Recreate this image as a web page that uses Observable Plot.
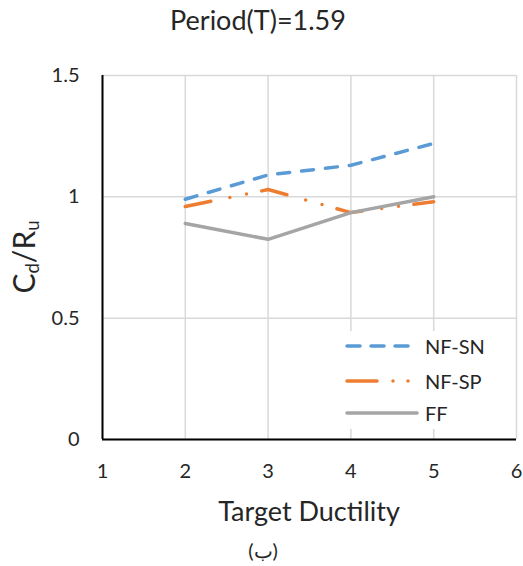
<!DOCTYPE html>
<html>
<head>
<meta charset="utf-8">
<script src="https://cdn.jsdelivr.net/npm/d3@7"></script>
<script src="https://cdn.jsdelivr.net/npm/@observablehq/plot@0.6"></script>
<style>
  body { margin: 0; background: #fff; }
  #wrap { position: relative; width: 523px; height: 566px; font-family: Lato, "Open Sans", sans-serif; color: #262626; overflow: hidden; }
  .abs { position: absolute; white-space: nowrap; }
  #title { left: 0; width: 516px; top: 3px; text-align: center; font-size: 27px; }
  #xlabel { left: 102px; width: 414px; top: 494px; text-align: center; font-size: 27px; }
  #caption { left: 102px; width: 322px; top: 538px; text-align: center; font-size: 20px; }
  #ylabel { left: 24px; top: 257px; transform: translate(-50%, -50%) rotate(-90deg); font-size: 30px; }
  #ylabel sub { font-size: 0.62em; vertical-align: -0.25em; }
  #legend { left: 338px; top: 331px; width: 172px; height: 98px; background: #fff; }
</style>
</head>
<body>
<div id="wrap">
  <div id="chart"></div>
  <div id="title" class="abs">Period(T)=1.59</div>
  <div id="ylabel" class="abs">C<sub>d</sub>/R<sub>u</sub></div>
  <div id="xlabel" class="abs">Target Ductility</div>
  <div id="caption" class="abs">(ب)</div>
  <div id="legend" class="abs"></div>
</div>
<script>
// ---- data ----
const ductility = [2, 3, 4, 5];
const nfSN = [0.99, 1.09, 1.13, 1.22];
const nfSP = [0.96, 1.03, 0.935, 0.98];
const ffV  = [0.89, 0.825, 0.935, 1.0];
const seriesNames = ["NF-SN", "NF-SP", "FF"];
const xTicks = [1, 2, 3, 4, 5, 6];
const yTicks = [0, 0.5, 1, 1.5];

// ---- styles ----
const styles = {
  "NF-SN": {stroke: "#5B9BD5", dash: "12,12"},
  "NF-SP": {stroke: "#ED7D31", dash: "26,19.5,0,17,0,15.5"},
  "FF":    {stroke: "#A5A5A5", dash: null}
};
const seriesValues = {"NF-SN": nfSN, "NF-SP": nfSP, "FF": ffV};
const rows = seriesNames.flatMap(s => ductility.map((d, i) => ({series: s, x: d, y: seriesValues[s][i]})));

const lineMarks = seriesNames.map(s => Plot.line(rows.filter(r => r.series === s), {
  x: "x", y: "y",
  stroke: styles[s].stroke,
  strokeWidth: 3.5,
  strokeDasharray: styles[s].dash || undefined,
  strokeLinecap: "round",
  strokeLinejoin: "round"
}));

const fmt = d => String(d);
const chart = Plot.plot({
  width: 523,
  height: 566,
  marginTop: 75,
  marginBottom: 127,
  marginLeft: 102,
  marginRight: 7,
  style: {fontFamily: "Lato, 'Open Sans', sans-serif", fontSize: "20px", color: "#262626", background: "#fff", overflow: "visible"},
  x: {domain: [1, 6], label: null},
  y: {domain: [0, 1.5], label: null},
  marks: [
    Plot.gridX(xTicks, {stroke: "#D9D9D9", strokeOpacity: 1, strokeWidth: 1.5}),
    Plot.gridY(yTicks, {stroke: "#D9D9D9", strokeOpacity: 1, strokeWidth: 1.5}),
    Plot.ruleX([xTicks[0]], {stroke: "#000", strokeWidth: 2}),
    Plot.ruleY([yTicks[0]], {stroke: "#000", strokeWidth: 2}),
    Plot.axisX(xTicks, {tickSize: 0, tickPadding: 24, fontSize: 20, label: null, tickFormat: fmt}),
    Plot.axisY(yTicks, {tickSize: 0, tickPadding: 23, fontSize: 20, label: null, tickFormat: fmt}),
    ...lineMarks
  ]
});
document.getElementById("chart").appendChild(chart);

// ---- legend ----
const leg = d3.select("#legend");
const rowTops = [0, 35, 67];
seriesNames.forEach((s, i) => {
  const row = leg.append("div")
    .style("position", "absolute").style("left", "0px").style("top", (rowTops[i]) + "px")
    .style("height", "30px").style("display", "flex").style("align-items", "center");
  const svg = row.append("svg").attr("width", 84).attr("height", 30);
  const ln = svg.append("line").attr("x1", 9).attr("x2", 79).attr("y1", 15).attr("y2", 15)
    .attr("stroke", styles[s].stroke).attr("stroke-width", 3.5).attr("stroke-linecap", "round");
  if (styles[s].dash) ln.attr("stroke-dasharray", s === "NF-SN" ? "13,11" : "30,16,0,15,0,100");
  row.append("span").text(s).style("font-size", "20px").style("margin-left", "3px");
});
</script>
</body>
</html>
